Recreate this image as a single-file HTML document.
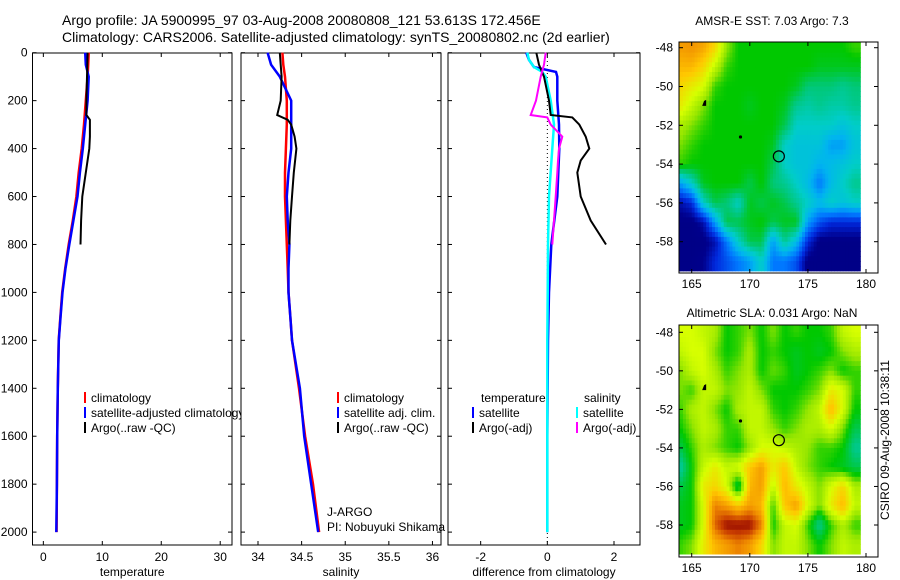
<!DOCTYPE html>
<html><head><meta charset="utf-8"><style>
body{margin:0;background:#fff;font-family:"Liberation Sans",sans-serif}
svg{display:block}
text{font-family:"Liberation Sans",sans-serif;fill:#000}
</style></head><body>
<svg id="c" width="900" height="580">
<rect width="900" height="580" fill="#fff"/>
<text x="62" y="25" font-size="14">Argo profile: JA 5900995_97 03-Aug-2008 20080808_121 53.613S 172.456E</text>
<text x="62" y="42" font-size="14">Climatology: CARS2006. Satellite-adjusted climatology: synTS_20080802.nc (2d earlier)</text>
<text x="772" y="25" font-size="12" text-anchor="middle">AMSR-E SST: 7.03 Argo: 7.3</text>
<text x="772" y="317" font-size="12" text-anchor="middle">Altimetric SLA: 0.031 Argo: NaN</text>
<text transform="translate(889,440) rotate(-90)" font-size="12" text-anchor="middle">CSIRO 09-Aug-2008 10:38:11</text>
<g id="g"></g>
</svg>
<script>
// ---------- profile data ----------
const depthTicks=[0,200,400,600,800,1000,1200,1400,1600,1800,2000];
const tempTicks=[0,10,20,30];
const salTicks=[34,34.5,35,35.5,36];
const diffTicks=[-2,0,2];
const climTDepth=[0,50,100,200,300,400,500,600,700,800,900,1000,1100,1200,1400,1600,1800,2000];
const climT=[7.7,7.6,7.5,7.2,6.9,6.5,6.0,5.6,5.0,4.3,3.7,3.2,2.9,2.6,2.45,2.35,2.3,2.25];
const satT=[7.1,7.2,7.7,7.5,7.1,6.7,6.2,5.8,5.1,4.4,3.75,3.25,2.92,2.62,2.45,2.35,2.3,2.2];
const argoDepth=[0,100,200,260,280,300,350,400,500,600,700,800];
const argoT=[7.5,7.4,7.3,7.3,7.9,7.9,7.9,7.8,7.2,6.6,6.4,6.3];
const climS=[34.28,34.29,34.31,34.33,34.33,34.32,34.31,34.31,34.32,34.33,34.34,34.35,34.37,34.39,34.47,34.54,34.63,34.7];
const satS=[34.11,34.15,34.25,34.38,34.38,34.38,34.35,34.33,34.34,34.36,34.35,34.35,34.37,34.39,34.48,34.53,34.61,34.69];
const argoS=[34.25,34.27,34.26,34.22,34.34,34.38,34.42,34.44,34.41,34.39,34.37,34.36];
const diffDepth=[0,30,60,80,100,200,300,400,600,800,1000,1200,1600,2000];
const diffSatT=[-0.63,-0.55,-0.4,0.26,0.3,0.3,0.35,0.36,0.3,0.12,0.05,0.02,0,0];
const diffSatS=[-0.6,-0.55,-0.4,-0.15,-0.05,0.1,0.2,0.15,0.05,0.02,0.01,0,0,0];
const diffArgoDepth=[0,50,100,200,260,270,300,350,400,450,500,600,700,800];
const diffArgoT=[-0.33,-0.25,-0.1,0.05,0.1,0.75,0.96,1.15,1.26,1.0,0.9,1.0,1.3,1.76];
const diffArgoS=[-0.05,-0.1,-0.2,-0.34,-0.5,0,0.1,0.45,0.35,0.32,0.3,0.25,0.2,0.15];

// ---------- map data (colour index 0..1), rows lat -48..-59, cols lon 164..179 ----------
const sstGrid=[
[0.85,0.86,0.84,0.78,0.66,0.6,0.6,0.6,0.6,0.6,0.6,0.6,0.6,0.6,0.6,0.62],
[0.82,0.82,0.78,0.7,0.62,0.6,0.6,0.6,0.6,0.6,0.6,0.6,0.58,0.58,0.58,0.58],
[0.78,0.75,0.72,0.62,0.6,0.6,0.6,0.6,0.6,0.6,0.58,0.52,0.52,0.52,0.5,0.52],
[0.75,0.7,0.65,0.6,0.6,0.6,0.58,0.6,0.6,0.58,0.5,0.48,0.5,0.48,0.48,0.5],
[0.68,0.65,0.62,0.6,0.6,0.6,0.6,0.6,0.6,0.55,0.45,0.45,0.45,0.45,0.42,0.45],
[0.65,0.62,0.6,0.6,0.6,0.6,0.6,0.6,0.58,0.45,0.42,0.42,0.42,0.35,0.35,0.42],
[0.62,0.6,0.6,0.6,0.6,0.6,0.6,0.6,0.55,0.45,0.42,0.42,0.38,0.4,0.42,0.45],
[0.35,0.45,0.58,0.6,0.6,0.6,0.55,0.6,0.52,0.5,0.45,0.4,0.3,0.4,0.45,0.5],
[0.15,0.2,0.45,0.55,0.52,0.45,0.58,0.55,0.58,0.55,0.5,0.45,0.4,0.45,0.42,0.45],
[0.1,0.1,0.15,0.35,0.55,0.55,0.58,0.6,0.55,0.58,0.58,0.35,0.25,0.2,0.2,0.2],
[0.1,0.1,0.1,0.15,0.3,0.45,0.55,0.55,0.35,0.5,0.4,0.2,0.1,0.1,0.1,0.1],
[0.1,0.1,0.12,0.2,0.25,0.3,0.35,0.45,0.3,0.3,0.25,0.1,0.1,0.1,0.1,0.1]];
const slaGrid=[
[0.72,0.72,0.7,0.68,0.6,0.62,0.65,0.6,0.65,0.6,0.62,0.6,0.6,0.62,0.7,0.72],
[0.7,0.72,0.72,0.65,0.6,0.62,0.68,0.6,0.62,0.6,0.58,0.6,0.58,0.6,0.65,0.68],
[0.65,0.7,0.72,0.68,0.62,0.65,0.68,0.6,0.64,0.62,0.58,0.6,0.62,0.65,0.6,0.62],
[0.65,0.62,0.7,0.7,0.65,0.66,0.7,0.65,0.6,0.6,0.6,0.62,0.65,0.75,0.72,0.62],
[0.62,0.68,0.7,0.65,0.6,0.68,0.7,0.7,0.62,0.6,0.62,0.66,0.7,0.82,0.72,0.6],
[0.6,0.65,0.7,0.68,0.62,0.62,0.7,0.7,0.66,0.62,0.65,0.68,0.68,0.72,0.65,0.55],
[0.55,0.62,0.68,0.65,0.62,0.6,0.66,0.72,0.72,0.7,0.68,0.66,0.62,0.62,0.6,0.5],
[0.48,0.6,0.7,0.75,0.7,0.72,0.8,0.85,0.75,0.8,0.7,0.65,0.62,0.6,0.58,0.55],
[0.55,0.6,0.75,0.78,0.72,0.55,0.82,0.85,0.7,0.82,0.75,0.7,0.65,0.72,0.78,0.68],
[0.58,0.6,0.72,0.88,0.85,0.8,0.85,0.82,0.62,0.8,0.85,0.72,0.65,0.75,0.82,0.7],
[0.58,0.6,0.72,0.9,0.97,0.97,0.97,0.88,0.6,0.7,0.72,0.62,0.5,0.62,0.68,0.62],
[0.62,0.65,0.75,0.82,0.85,0.88,0.85,0.78,0.65,0.7,0.7,0.65,0.6,0.65,0.7,0.68]];
const lonTicks=[165,170,175,180];
const latTicks=[-48,-50,-52,-54,-56,-58];
const floatLon=172.5, floatLat=-53.6;

const NS='http://www.w3.org/2000/svg';
const G=document.getElementById('g');
function mk(tag,attrs,parent){const e=document.createElementNS(NS,tag);for(const k in attrs)e.setAttribute(k,attrs[k]);(parent||G).appendChild(e);return e;}
const CM=[[0.0,0,0,110],[0.12,0,0,140],[0.2,0,40,220],[0.3,0,120,255],[0.38,0,180,240],[0.45,0,205,200],[0.52,0,200,120],[0.6,0,200,0],[0.66,150,230,0],[0.72,215,255,0],[0.8,255,200,0],[0.87,240,140,0],[0.93,200,60,0],[0.98,140,0,0],[1,120,0,0]];
function cmap(v){v=Math.max(0,Math.min(1,v));
 for(let i=1;i<CM.length;i++){if(v<=CM[i][0]){const a=CM[i-1],b=CM[i],t=(v-a[0])/(b[0]-a[0]);
  return `rgb(${Math.round(a[1]+t*(b[1]-a[1]))},${Math.round(a[2]+t*(b[2]-a[2]))},${Math.round(a[3]+t*(b[3]-a[3]))})`;}}
 return 'rgb(120,0,0)';}

// ---------- profile panels ----------
const Y0=52.7,YS=0.2397,TOP=53,BOT=545;
const yD=d=>Y0+d*YS;
function panel(name,x0,x1,v0,v1,ticks,label,showDepth){
 const xs=v=>x0+(v-v0)/(v1-v0)*(x1-x0);
 const g=mk('g',{});
 
 
 mk('rect',{x:x0,y:TOP,width:x1-x0,height:BOT-TOP,fill:'#fff',stroke:'#000','stroke-width':1},g);
 depthTicks.forEach(d=>{const y=yD(d);
  mk('line',{x1:x0,x2:x0+4,y1:y,y2:y,stroke:'#000'},g);mk('line',{x1:x1-4,x2:x1,y1:y,y2:y,stroke:'#000'},g);
  if(showDepth){const t=mk('text',{x:x0-5,y:y+4,'font-size':12,'text-anchor':'end'},g);t.textContent=d;
   
   }
 });
 ticks.forEach(v=>{const x=xs(v);
  mk('line',{x1:x,x2:x,y1:BOT,y2:BOT-4,stroke:'#000'},g);mk('line',{x1:x,x2:x,y1:TOP,y2:TOP+4,stroke:'#000'},g);
  const t=mk('text',{x:x,y:561,'font-size':12,'text-anchor':'middle'},g);t.textContent=v;
  
  });
 const t=mk('text',{x:(x0+x1)/2,y:576,'font-size':12,'text-anchor':'middle'},g);t.textContent=label;
 
 
 return {g,xs};
}
function line(p,depths,vals,color,name,w){
 const pts=depths.map((d,i)=>p.xs(vals[i]).toFixed(1)+','+yD(d).toFixed(1)).join(' ');
 const l=mk('polyline',{points:pts,fill:'none',stroke:color,'stroke-width':w||2},p.g);
 
 
}
function legend(p,x,y,color,label,name){
 mk('line',{x1:x,x2:x,y1:y-6,y2:y+5,stroke:color,'stroke-width':2},p.g);
 const t=mk('text',{x:x+6,y:y+4,'font-size':12},p.g);t.textContent=label;
 
 
}
const pT=panel('temperature-panel',32.5,232,-1.84,32,tempTicks,'temperature',true);
line(pT,climTDepth,climT,'#f00','temp-climatology-line',2.5);
line(pT,climTDepth,satT,'#00f','temp-satellite-line',2.5);
line(pT,argoDepth,argoT,'#000','temp-argo-line',2);
legend(pT,85,398,'#f00','climatology','legend-climatology');
legend(pT,85,413,'#00f','satellite-adjusted climatology','legend-satellite');
legend(pT,85,428,'#000','Argo(..raw -QC)','legend-argo');

const pS=panel('salinity-panel',241,441,33.805,36.098,salTicks,'salinity',false);
line(pS,climTDepth,climS,'#f00','sal-climatology-line',2.5);
line(pS,climTDepth,satS,'#00f','sal-satellite-line',2.5);
line(pS,argoDepth,argoS,'#000','sal-argo-line',2);
legend(pS,338,398,'#f00','climatology','legend-climatology');
legend(pS,338,413,'#00f','satellite adj. clim.','legend-satellite');
legend(pS,338,428,'#000','Argo(..raw -QC)','legend-argo');
{const t=mk('text',{x:327,y:516,'font-size':12},pS.g);t.textContent='J-ARGO';
 
 
 const t2=mk('text',{x:327,y:531,'font-size':12},pS.g);t2.textContent='PI: Nobuyuki Shikama';
 
 }

const pD=panel('difference-panel',448,640,-2.98,2.78,diffTicks,'difference from climatology',false);
mk('line',{x1:pD.xs(0),x2:pD.xs(0),y1:TOP,y2:BOT,stroke:'#000','stroke-dasharray':'1,3'},pD.g);
line(pD,diffDepth,diffSatT,'#00f','diff-satellite-temp-line',2.5);
line(pD,diffDepth,diffSatS,'#0ff','diff-satellite-sal-line',2.5);
line(pD,diffArgoDepth,diffArgoT,'#000','diff-argo-temp-line',2);
line(pD,diffArgoDepth,diffArgoS,'#f0f','diff-argo-sal-line',2);
{const t=mk('text',{x:481,y:402,'font-size':12},pD.g);t.textContent='temperature';
 
 
 const t2=mk('text',{x:584,y:402,'font-size':12},pD.g);t2.textContent='salinity';
 
 }
legend(pD,473,413,'#00f','satellite','legend-sat-temp');
legend(pD,473,428,'#000','Argo(-adj)','legend-argo-temp');
legend(pD,577,413,'#0ff','satellite','legend-sat-sal');
legend(pD,577,428,'#f0f','Argo(-adj)','legend-argo-sal');
G.insertBefore(pT.g,pS.g);

// ---------- maps ----------
function sample(grid,fr,fc){
 const R=grid.length-1,C=grid[0].length-1;
 fr=Math.max(0,Math.min(R,fr));fc=Math.max(0,Math.min(C,fc));
 const r0=Math.floor(fr),c0=Math.floor(fc),r1=Math.min(R,r0+1),c1=Math.min(C,c0+1),tr=fr-r0,tc=fc-c0;
 return grid[r0][c0]*(1-tr)*(1-tc)+grid[r0][c1]*(1-tr)*tc+grid[r1][c0]*tr*(1-tc)+grid[r1][c1]*tr*tc;
}
function map(name,grid,boxTop,boxBot,lat48y,lat58y){
 const ax0=679,ax1=878,imgR=866;
 const xL=lon=>691.7+(lon-165)*(866-691.7)/15;
 const yL=lat=>lat48y+(-48-lat)*(lat58y-lat48y)/10;
 const g=mk('g',{});
 
 
 mk('rect',{x:ax0,y:boxTop,width:ax1-ax0,height:boxBot-boxTop,fill:'#fff'},g);
 const S=4, step=1/S;
 for(let r=0;r<grid.length;r++)for(let c=0;c<grid[0].length;c++)for(let i=0;i<S;i++)for(let j=0;j<S;j++){
  const lon0=164+c-0.5+j*step, lat0=-47.5-r-i*step;
  const x0=Math.max(ax0,xL(lon0)),x1=Math.min(imgR,xL(lon0+step));
  const y0=Math.max(boxTop,yL(lat0)),y1=Math.min(boxBot,yL(lat0-step));
  if(x1<=x0||y1<=y0)continue;
  const v=sample(grid,r-0.5+(i+0.5)*step,c-0.5+(j+0.5)*step);
  const cell=mk('rect',{x:x0.toFixed(1),y:y0.toFixed(1),width:(x1-x0+0.6).toFixed(1),height:(y1-y0+0.6).toFixed(1),fill:cmap(v)},g);
  
  
 }
 mk('rect',{x:ax0,y:boxTop,width:ax1-ax0,height:boxBot-boxTop,fill:'none',stroke:'#000'},g);
 lonTicks.forEach(l=>{const x=xL(l);
  mk('line',{x1:x,x2:x,y1:boxBot,y2:boxBot-4,stroke:'#000'},g);mk('line',{x1:x,x2:x,y1:boxTop,y2:boxTop+4,stroke:'#000'},g);
  const t=mk('text',{x:x,y:boxBot+15,'font-size':12,'text-anchor':'middle'},g);t.textContent=l;
  
  });
 latTicks.forEach(l=>{const y=yL(l);
  mk('line',{x1:ax0,x2:ax0+4,y1:y,y2:y,stroke:'#000'},g);mk('line',{x1:ax1-4,x2:ax1,y1:y,y2:y,stroke:'#000'},g);
  const t=mk('text',{x:673,y:y+4,'font-size':12,'text-anchor':'end'},g);t.textContent=l;
  
  });
 mk('path',{d:`M${xL(165.9)},${yL(-51)} l2,-5 l2,-1 l0,6 z`,fill:'#000'},g);
 mk('circle',{cx:xL(169.2),cy:yL(-52.6),r:1.6,fill:'#000'},g);
 const m=mk('circle',{cx:xL(floatLon),cy:yL(floatLat),r:5.5,fill:'none',stroke:'#000','stroke-width':1.2},g);
 
 
}
map('sst-map',sstGrid,42,273,47.7,241.7);
map('sla-map',slaGrid,325,557,332.3,525);
</script>
</body></html>
